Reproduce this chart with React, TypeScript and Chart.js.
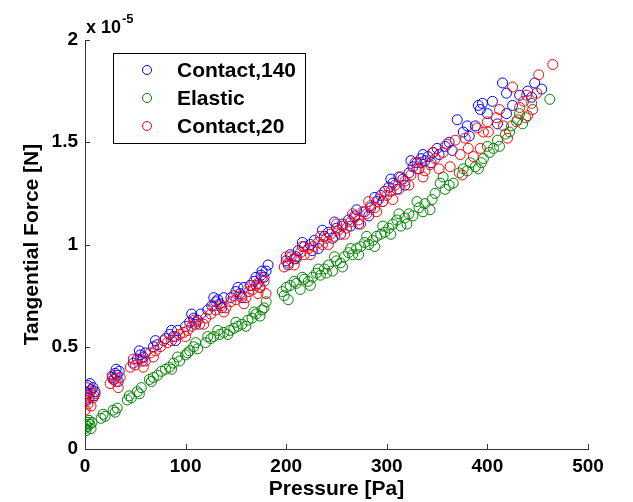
import React, { useEffect, useRef } from "react";
import { Chart, registerables } from "chart.js";

Chart.register(...registerables);

const xTicks = [0, 100, 200, 300, 400, 500];
const yTicks = [0, 0.5, 1, 1.5, 2];
const exponentLabel = "x 10";
const exponentPower = "-5";

const seriesLabels = ["Contact,140", "Elastic", "Contact,20"];
const seriesColors = ["#0000ff", "#008000", "#ff0000"];

// Contact,140 (blue)
const blueX = [2, 4, 6, 8, 3, 10, 27, 30, 32, 34, 29, 48, 52, 55, 58, 60, 68, 72, 80, 84, 88, 92, 100, 104, 108, 112, 115, 122, 126, 130, 134, 138, 132, 145, 150, 154, 158, 164, 168, 172, 175, 178, 182, 176,
  1, 5, 9, 31, 33, 54, 57, 70, 86, 90, 106, 110, 128, 136, 152, 156, 170, 174, 180,
  200, 204, 208, 212, 218, 224, 228, 232, 238, 242, 246, 250, 256, 262, 268, 272, 278, 284, 290, 294, 298, 302, 306, 310, 316, 322, 326, 330, 334, 338, 341, 346, 352, 358, 362, 370, 376, 382, 388, 391, 395, 400, 410, 415, 419, 419, 432, 440, 447, 454,
  202, 210, 216, 226, 236, 248, 254, 264, 270, 282, 288, 296, 304, 312, 318, 324, 332, 336, 344, 350, 365, 380, 393, 405, 425, 444];
const blueY = [0.27, 0.25, 0.29, 0.30, 0.31, 0.28, 0.35, 0.37, 0.36, 0.38, 0.34, 0.42, 0.44, 0.46, 0.45, 0.47, 0.50, 0.51, 0.54, 0.56, 0.55, 0.58, 0.60, 0.62, 0.64, 0.63, 0.66, 0.68, 0.70, 0.72, 0.71, 0.74, 0.73, 0.74, 0.77, 0.76, 0.79, 0.80, 0.82, 0.81, 0.85, 0.84, 0.90, 0.87,
  0.24, 0.32, 0.26, 0.39, 0.33, 0.48, 0.43, 0.53, 0.58, 0.53, 0.66, 0.61, 0.74, 0.69, 0.79, 0.74, 0.84, 0.79, 0.87,
  0.92, 0.95, 0.93, 0.97, 0.99, 1.00, 1.02, 0.98, 1.04, 1.06, 1.03, 1.08, 1.10, 1.12, 1.14, 1.10, 1.16, 1.18, 1.21, 1.24, 1.26, 1.28, 1.30, 1.27, 1.32, 1.35, 1.38, 1.40, 1.42, 1.41, 1.43, 1.45, 1.44, 1.48, 1.50, 1.61, 1.55, 1.53, 1.58, 1.68, 1.69, 1.64, 1.59, 1.79, 1.74, 1.64, 1.73, 1.75, 1.79, 1.76,
  0.90, 0.94, 1.01, 0.97, 1.07, 1.11, 1.05, 1.09, 1.17, 1.14, 1.23, 1.21, 1.32, 1.33, 1.29, 1.41, 1.37, 1.44, 1.40, 1.47, 1.46, 1.58, 1.66, 1.70, 1.68, 1.72];

// Elastic (green)
const greenX = [0, 1, 2, 3, 5, 7, 16, 20, 28, 32, 42, 46, 52, 56, 64, 68, 72, 80, 84, 88, 94, 100, 104, 108, 112, 120, 125, 128, 134, 138, 144, 148, 152, 156, 162, 166, 170, 174, 178, 180,
  1, 4, 6, 18, 30, 44, 54, 66, 76, 86, 92, 102, 110, 122, 132, 142, 150, 160, 168, 176,
  196, 200, 204, 202, 210, 214, 218, 222, 226, 230, 234, 238, 242, 246, 250, 254, 258, 262, 266, 270, 274, 278, 282, 286, 290, 294, 298, 302, 306, 310, 314, 318, 322, 326, 332, 338, 343, 348, 353, 358, 366, 372, 376, 383, 388, 391, 396, 402, 406, 412, 418, 424, 430, 432, 435, 444, 462,
  198, 208, 216, 224, 232, 240, 248, 256, 264, 272, 280, 288, 296, 304, 312, 320, 330, 336, 345, 356, 362, 380, 394, 400, 410, 422, 438];
const greenY = [0.10, 0.12, 0.11, 0.13, 0.12, 0.13, 0.15, 0.16, 0.19, 0.20, 0.24, 0.25, 0.28, 0.30, 0.34, 0.35, 0.36, 0.39, 0.40, 0.42, 0.43, 0.46, 0.48, 0.50, 0.49, 0.52, 0.54, 0.55, 0.56, 0.57, 0.58, 0.59, 0.60, 0.61, 0.63, 0.64, 0.66, 0.65, 0.69, 0.72,
  0.09, 0.14, 0.10, 0.17, 0.18, 0.26, 0.27, 0.33, 0.38, 0.39, 0.45, 0.47, 0.52, 0.55, 0.58, 0.56, 0.62, 0.60, 0.67, 0.68,
  0.77, 0.79, 0.80, 0.73, 0.81, 0.78, 0.83, 0.82, 0.84, 0.86, 0.85, 0.88, 0.90, 0.87, 0.92, 0.91, 0.94, 0.96, 0.95, 0.98, 0.99, 1.01, 1.00, 1.02, 1.04, 1.05, 1.06, 1.08, 1.10, 1.12, 1.09, 1.13, 1.15, 1.14, 1.18, 1.20, 1.17, 1.25, 1.30, 1.27, 1.30, 1.35, 1.37, 1.40, 1.38, 1.37, 1.42, 1.45, 1.47, 1.48, 1.54, 1.58, 1.61, 1.64, 1.59, 1.69, 1.71,
  0.75, 0.82, 0.84, 0.80, 0.88, 0.86, 0.94, 0.89, 0.98, 0.95, 1.04, 0.99, 1.09, 1.05, 1.15, 1.10, 1.21, 1.16, 1.22, 1.33, 1.29, 1.36, 1.40, 1.48, 1.51, 1.55, 1.62];

// Contact,20 (red)
const redX = [0, 1, 2, 3, 5, 8, 10, 25, 28, 31, 35, 45, 50, 55, 60, 65, 70, 75, 82, 86, 90, 98, 102, 106, 110, 114, 120, 125, 130, 135, 140, 145, 150, 155, 160, 163, 167, 170, 174, 178, 180,
  2, 6, 27, 33, 48, 58, 68, 78, 94, 100, 108, 118, 128, 138, 148, 158, 165, 172, 176,
  198, 202, 205, 210, 214, 218, 222, 227, 232, 236, 240, 244, 248, 252, 256, 260, 264, 268, 272, 276, 280, 284, 288, 292, 296, 300, 304, 308, 312, 318, 324, 330, 334, 338, 343, 348, 356, 363, 368, 373, 375, 381, 390, 393, 400, 401, 409, 412, 420, 425, 429, 432, 439, 440, 449, 451, 465,
  200, 208, 216, 224, 234, 242, 250, 258, 266, 274, 282, 290, 298, 306, 314, 322, 328, 336, 346, 352, 360, 378, 386, 396, 416, 436, 445];
const redY = [0.19, 0.23, 0.26, 0.22, 0.28, 0.25, 0.27, 0.32, 0.34, 0.33, 0.35, 0.40, 0.41, 0.44, 0.43, 0.47, 0.48, 0.50, 0.52, 0.53, 0.55, 0.57, 0.58, 0.60, 0.62, 0.61, 0.64, 0.66, 0.68, 0.70, 0.69, 0.72, 0.73, 0.75, 0.74, 0.77, 0.78, 0.80, 0.79, 0.82, 0.76,
  0.30, 0.21, 0.36, 0.30, 0.44, 0.40, 0.45, 0.53, 0.56, 0.55, 0.63, 0.61, 0.70, 0.67, 0.75, 0.71, 0.80, 0.76, 0.84,
  0.89, 0.91, 0.94, 0.93, 0.96, 0.95, 0.98, 0.99, 1.01, 1.00, 1.03, 1.05, 1.04, 1.07, 1.09, 1.08, 1.11, 1.13, 1.12, 1.16, 1.15, 1.19, 1.18, 1.22, 1.21, 1.24, 1.26, 1.29, 1.27, 1.31, 1.34, 1.37, 1.40, 1.36, 1.39, 1.42, 1.45, 1.38, 1.51, 1.44, 1.34, 1.47, 1.57, 1.47, 1.60, 1.55, 1.62, 1.66, 1.52, 1.77, 1.60, 1.67, 1.73, 1.63, 1.74, 1.83, 1.88,
  0.94, 0.90, 0.99, 0.95, 1.04, 1.00, 1.10, 1.05, 1.15, 1.10, 1.21, 1.16, 1.26, 1.22, 1.33, 1.29, 1.40, 1.33, 1.45, 1.37, 1.49, 1.52, 1.43, 1.55, 1.58, 1.70, 1.66];

const FONT = "'Liberation Sans', Arial, sans-serif";

const toPoints = (xs: number[], ys: number[]) => xs.map((x, i) => ({ x, y: ys[i] }));

const decorPlugin = {
  id: "decor",
  afterDraw(chart: any) {
    const { ctx, chartArea, scales } = chart;
    const xs = scales.x;
    const ys = scales.y;
    ctx.save();
    // inward tick marks
    ctx.strokeStyle = "#333";
    ctx.lineWidth = 1;
    ctx.beginPath();
    xTicks.forEach((v) => {
      const px = Math.round(xs.getPixelForValue(v)) + 0.5;
      ctx.moveTo(px, chartArea.bottom);
      ctx.lineTo(px, chartArea.bottom - 5);
    });
    yTicks.forEach((v) => {
      const py = Math.round(ys.getPixelForValue(v)) + 0.5;
      ctx.moveTo(chartArea.left, py);
      ctx.lineTo(chartArea.left + 5, py);
    });
    ctx.stroke();

    // exponent label
    ctx.fillStyle = "#000";
    ctx.textBaseline = "alphabetic";
    ctx.textAlign = "left";
    ctx.font = `bold 18px ${FONT}`;
    const ex = chartArea.left + 1;
    const ey = chartArea.top - 7;
    ctx.fillText(exponentLabel, ex, ey);
    const w = ctx.measureText(exponentLabel).width;
    ctx.font = `bold 13px ${FONT}`;
    ctx.fillText(exponentPower, ex + w + 1, ey - 10);

    // legend box
    const bx = 113.5, by = 53.5, bw = 192, bh = 90;
    ctx.fillStyle = "#fff";
    ctx.fillRect(bx, by, bw, bh);
    ctx.strokeStyle = "#000";
    ctx.strokeRect(bx, by, bw, bh);
    const rows = [70, 98, 126];
    chart.data.datasets.forEach((ds: any) => {
      const idx = seriesLabels.indexOf(ds.label);
      const ry = rows[idx];
      ctx.beginPath();
      ctx.strokeStyle = ds.borderColor;
      ctx.lineWidth = 1;
      ctx.arc(147, ry, 4.5, 0, Math.PI * 2);
      ctx.stroke();
      ctx.fillStyle = "#000";
      ctx.font = `bold 21px ${FONT}`;
      ctx.textBaseline = "middle";
      ctx.fillText(ds.label, 177, ry + 1);
    });
    ctx.restore();
  },
};

export default function App() {
  const ref = useRef<HTMLCanvasElement | null>(null);
  useEffect(() => {
    if (!ref.current) return;
    const mk = (i: number, xs: number[], ys: number[], order: number) => ({
      label: seriesLabels[i],
      data: toPoints(xs, ys),
      borderColor: seriesColors[i],
      backgroundColor: "rgba(0,0,0,0)",
      pointRadius: 5,
      pointBorderWidth: 1,
      pointStyle: "circle",
      showLine: false,
      order,
    });
    const chart = new Chart(ref.current, {
      type: "scatter",
      data: {
        datasets: [
          mk(0, blueX, blueY, 3),
          mk(1, greenX, greenY, 2),
          mk(2, redX, redY, 1),
        ],
      },
      plugins: [decorPlugin],
      options: {
        animation: false,
        responsive: false,
        devicePixelRatio: 1,
        layout: { padding: { left: 0, right: 45, top: 40, bottom: 0 } },
        plugins: { legend: { display: false }, tooltip: { enabled: false } },
        scales: {
          x: {
            type: "linear",
            min: 0,
            max: 500,
            afterFit: (s: any) => { s.height = 53; },
            grid: { display: false, drawTicks: false },
            border: { display: true, color: "#333", width: 1 },
            afterBuildTicks: (s: any) => { s.ticks = xTicks.map((v) => ({ value: v })); },
            ticks: { color: "#000", font: { family: FONT, size: 19, weight: "bold" }, padding: 6, maxRotation: 0, callback: (v: any) => String(v) },
            title: { display: true, text: "Pressure [Pa]", color: "#000", font: { family: FONT, size: 21, weight: "bold" }, padding: { top: 1, bottom: 0 } },
          },
          y: {
            type: "linear",
            min: 0,
            max: 2,
            afterFit: (s: any) => { s.width = 85; },
            grid: { display: false, drawTicks: false },
            border: { display: true, color: "#333", width: 1 },
            afterBuildTicks: (s: any) => { s.ticks = yTicks.map((v) => ({ value: v })); },
            ticks: { color: "#000", font: { family: FONT, size: 19, weight: "bold" }, padding: 7, callback: (v: any) => String(v) },
            title: { display: true, text: "Tangential Force [N]", color: "#000", font: { family: FONT, size: 21, weight: "bold" }, padding: { top: 20, bottom: 0 } },
          },
        },
      },
    } as any);
    return () => chart.destroy();
  }, []);
  return (
    <div style={{ position: "fixed", left: 0, top: 0, width: 633, height: 502, background: "#fff" }}>
      <canvas ref={ref} width={633} height={502} style={{ display: "block" }} />
    </div>
  );
}
